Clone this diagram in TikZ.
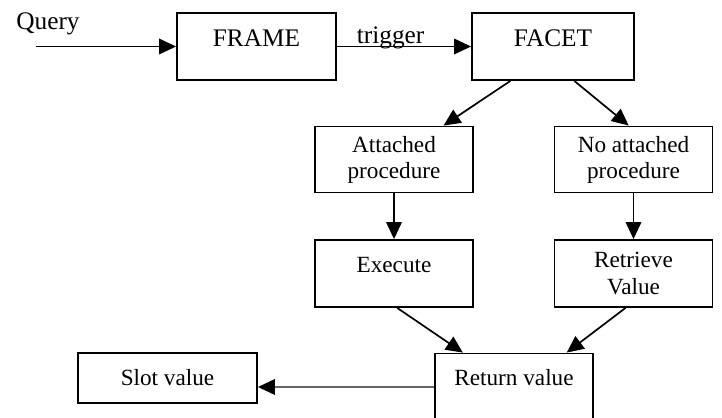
\documentclass[tikz,border=0pt]{standalone}
\usepackage{fontspec}
\setmainfont{Liberation Serif}
\usetikzlibrary{arrows.meta,calc}

\tikzset{
  box/.style={draw,line width=1.3pt,minimum width=3.95cm,minimum height=1.65cm,
    align=center,font=\fontsize{16.5}{18.5}\selectfont},
  big/.style={font=\fontsize{18}{20}\selectfont},
  upper/.style={text depth=12pt},
  flow/.style={line width=1.2pt,-{Triangle[length=12pt,width=11pt,color=black]}}
}

\begin{document}
\begin{tikzpicture}[x=0.025cm,y=-0.025cm]
          \useasboundingbox (0,0) rectangle (722,418);
          \node[box,big,upper,minimum width=3.975cm,minimum height=1.675cm] (Frame) at (256.5,46.5) {FRAME};
          \node[box,big,upper,minimum width=4.05cm,minimum height=1.675cm] (Facet) at (553,46.5) {FACET};
          \node[box] (Attached) at (394,159.5) {Attached\\procedure};
          \node[box] (NoAttached) at (633.5,159.5) {No attached\\procedure};
          \node[box,upper,minimum height=1.675cm] (Execute) at (394,273.5) {Execute};
          \node[box,minimum height=1.675cm] (Retrieve) at (633.5,273.5) {Retrieve\\Value};
          \node[box,upper,minimum height=1.675cm,text depth=14pt] (Return) at (514,387) {Return value};
          \node[box,minimum width=4.475cm,minimum height=1.25cm] (Slot) at (167.5,378) {Slot value};
          \node[big] (Query) at (48,24) {Query};
          \coordinate (In) at ($(Frame.west)+(-140,0)$);
          \path[flow] (In) edge (Frame);
          \path[flow] (Frame) edge node[big,pos=0.4,above,inner sep=0pt,yshift=-2.5pt] {trigger} (Facet);
          \path[flow] ($(Facet.south west)!0.24!(Facet.south east)$) edge ($(Attached.north west)!0.81!(Attached.north east)$);
          \path[flow] ($(Facet.south west)!0.63!(Facet.south east)$) edge ($(NoAttached.north west)!0.47!(NoAttached.north east)$);
          \path[flow] (Attached) edge (Execute);
          \path[flow] (NoAttached) edge (Retrieve);
          \path[flow] ($(Execute.south west)!0.52!(Execute.south east)$) edge ($(Return.north west)!0.18!(Return.north east)$);
          \path[flow] ($(Retrieve.south west)!0.45!(Retrieve.south east)$) edge ($(Return.north west)!0.83!(Return.north east)$);
          \path[flow] (Return.west) edge[black!60] (Return.west -| Slot.east);
        \end{tikzpicture}
\end{document}
